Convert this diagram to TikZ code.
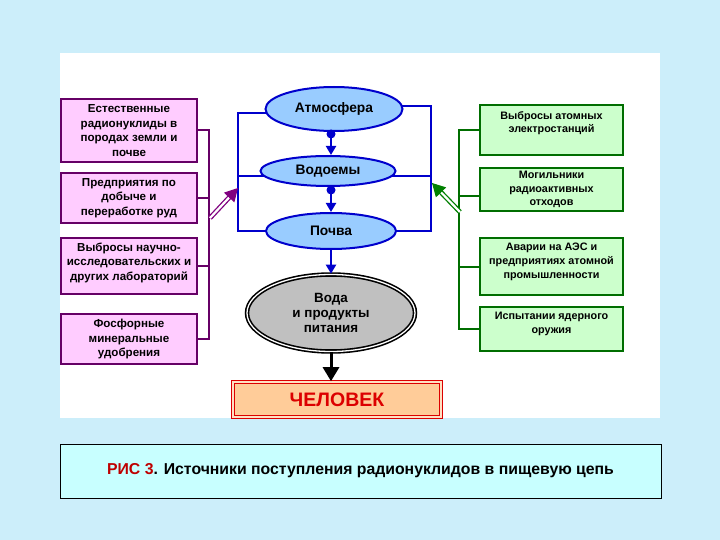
\documentclass[tikz,border=0pt]{standalone}
\usepackage{fontspec}
\setmainfont{Liberation Sans}
\usetikzlibrary{shapes.geometric,arrows.meta,calc}
\definecolor{bgc}{RGB}{204,238,250}
\definecolor{capc}{RGB}{200,255,255}
\definecolor{pinkf}{RGB}{255,204,255}
\definecolor{purp}{RGB}{102,0,102}
\definecolor{purpa}{RGB}{128,0,128}
\definecolor{greenf}{RGB}{204,255,204}
\definecolor{greend}{RGB}{0,110,0}
\definecolor{greena}{RGB}{0,128,0}
\definecolor{bluef}{RGB}{153,204,255}
\definecolor{blued}{RGB}{0,0,204}
\definecolor{grayf}{RGB}{192,192,192}
\definecolor{peach}{RGB}{255,204,153}
\definecolor{redd}{RGB}{220,0,0}
\definecolor{capred}{RGB}{190,0,0}
\tikzset{
  pinkbox/.style={draw=purp, line width=2pt, fill=pinkf, minimum width=136pt, align=center, inner sep=1pt,
     font=\fontsize{11.6}{14.6}\selectfont\bfseries},
  greenbox/.style={draw=greend, line width=2pt, fill=greenf, minimum width=143pt, align=center, inner sep=1pt,
     font=\fontsize{10.8}{13.8}\selectfont\bfseries},
  blueell/.style={ellipse, draw=blued, line width=2pt, fill=bluef, inner sep=0pt,
     font=\fontsize{13.8}{16}\selectfont\bfseries},
  purpline/.style={draw=purp, line width=2pt},
  greenline/.style={draw=greend, line width=2pt},
  blueline/.style={draw=blued, line width=2pt},
}
\begin{document}
\begin{tikzpicture}[x=1pt,y=-1pt]
\useasboundingbox (0,0) rectangle (720,540);
\fill[bgc] (0,0) rectangle (720,540);
\fill[white] (60,53) rectangle (660,418);
\node[draw=black, line width=1pt, fill=capc, minimum width=601pt, minimum height=54pt, inner sep=0pt] (cap) at (360.5,471)
  {\fontsize{15.8}{18}\selectfont\bfseries\textcolor{capred}{РИС 3}. Источники поступления радионуклидов в пищевую цепь};

% left boxes
\node[pinkbox, minimum height=63pt] (L1) at (129,130.5) {Естественные\\радионуклиды в\\породах земли и\\почве};
\node[pinkbox, minimum height=50pt] (L2) at (129,198) {Предприятия по\\добыче и\\переработке руд};
\node[pinkbox, minimum height=56pt, text depth=9pt] (L3) at (129,266) {Выбросы научно-\\исследовательских и\\других лабораторий};
\node[pinkbox, minimum height=50pt] (L4) at (129,339) {Фосфорные\\минеральные\\удобрения};
\coordinate (sl) at (209,0);
\draw[purpline] (L1.east) -- (L1.east -| sl) -- (L4.east -| sl) -- (L4.east);
\draw[purpline] (L2.east) -- (L2.east -| sl);
\draw[purpline] (L3.east) -- (L3.east -| sl);

% right boxes
\node[greenbox, minimum height=50pt, text depth=16pt] (R1) at (551.5,130) {Выбросы атомных\\электростанций};
\node[greenbox, minimum height=43pt] (R2) at (551.5,189.5) {Могильники\\радиоактивных\\отходов};
\node[greenbox, minimum height=57pt, text depth=11pt] (R3) at (551.5,266.5) {Аварии на АЭС и\\предприятиях атомной\\промышленности};
\node[greenbox, minimum height=44pt, text depth=13pt] (R4) at (551.5,329) {Испытании ядерного\\оружия};
\coordinate (sr) at (459,0);
\draw[greenline] (R1.west) -- (R1.west -| sr) -- (R4.west -| sr) -- (R4.west);
\draw[greenline] ([yshift=-7pt]R2.west) -- ([yshift=-7pt]R2.west -| sr);
\draw[greenline] (R3.west) -- (R3.west -| sr);

% blue frame
\draw[blueline] (275,113) -- (238,113) -- (238,231) -- (280,231);
\draw[blueline] (238,176) -- (280,176);
\draw[blueline] (380,106) -- (431,106) -- (431,231) -- (380,231);
\draw[blueline] (431,176) -- (380,176);

% ellipses
\node[blueell, minimum width=137pt, minimum height=44pt] (A) at (334,109) {Атмосфера};
\node[blueell, minimum width=135pt, minimum height=30pt] (V) at (328,171) {Водоемы};
\node[blueell, minimum width=130pt, minimum height=36pt] (P) at (331,231) {Почва};
\node[ellipse, draw=black, line width=1.6pt, double=white, double distance=1.3pt, fill=grayf, inner sep=0pt,
  minimum width=168pt, minimum height=77pt, align=center, font=\fontsize{13.4}{15}\selectfont\bfseries] (G) at (331,313)
  {Вода\\и продукты\\питания};
\node[draw=redd, line width=1.6pt, double=peach!60!white, double distance=1.3pt, fill=peach,
  minimum width=208pt, minimum height=35pt, inner sep=0pt, font=\fontsize{19.5}{21}\selectfont\bfseries, text=redd] (H) at (337,399.5) {ЧЕЛОВЕК};

% arrows between ellipses
\coordinate (d1) at (331,134);
\coordinate (d2) at (331,190);
\fill[blued] (d1) circle (4.5pt);
\fill[blued] (d2) circle (4.5pt);
\draw[blueline, -{Triangle[length=9pt,width=10pt]}] (d1) -- (d1 |- V.north);
\draw[blueline, -{Triangle[length=9pt,width=10pt]}] (d2) -- (d2 |- P.north);
\draw[blueline, -{Triangle[length=9pt,width=10pt]}] (P.south) -- (G.north);
\draw[black, line width=3pt, -{Triangle[length=14pt,width=16pt]}] (G.south) -- (G.south |- H.north);

% slanted double arrows
\coordinate (pa0) at (210,218);
\coordinate (pa1) at (238,188);
\draw[draw=purpa, line width=1.3pt, double=white, double distance=2.2pt, shorten >=10pt] (pa0) -- (pa1);
\draw[draw=purpa, line width=1pt, -{Triangle[length=13pt,width=14pt]}] ($(pa1)!12pt!(pa0)$) -- (pa1);
\coordinate (ga0) at (460,212);
\coordinate (ga1) at (432,183);
\draw[draw=greena, line width=1.3pt, double=white, double distance=2.2pt, shorten >=10pt] (ga0) -- (ga1);
\draw[draw=greena, line width=1pt, -{Triangle[length=13pt,width=14pt]}] ($(ga1)!12pt!(ga0)$) -- (ga1);
\end{tikzpicture}
\end{document}
